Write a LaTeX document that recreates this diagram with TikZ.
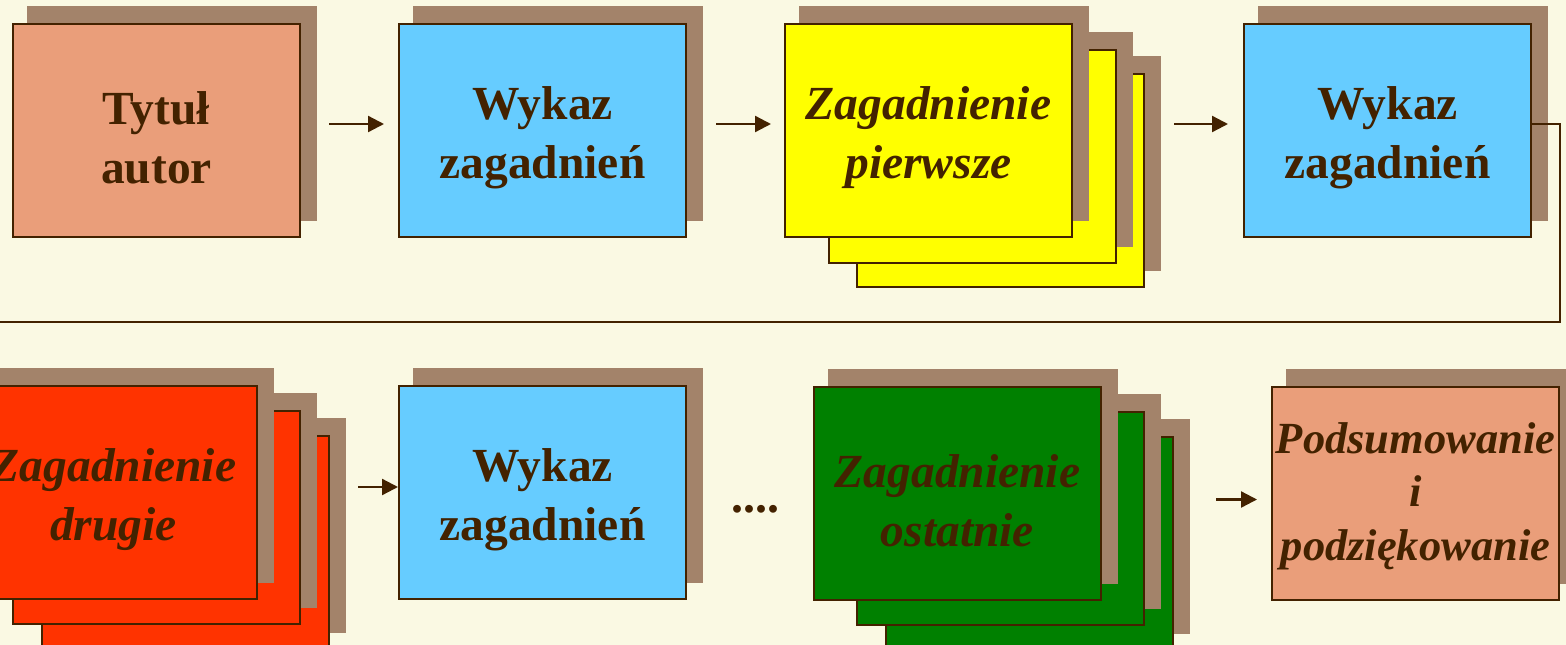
\documentclass[tikz,border=0pt]{standalone}
\usepackage{fontspec}
\setmainfont{Liberation Serif}
\usetikzlibrary{arrows.meta,shadows,calc}
\definecolor{bgc}{HTML}{FAF9E3}
\definecolor{dbr}{HTML}{432200}
\definecolor{shc}{HTML}{A3836A}
\definecolor{salmon}{HTML}{EA9E7A}
\definecolor{skyb}{HTML}{66CCFF}
\definecolor{yel}{HTML}{FFFF00}
\definecolor{redc}{HTML}{FF3300}
\definecolor{grn}{HTML}{008000}
\newcommand\toppad[1]{\rule{0pt}{#1}}
\begin{document}
\begin{tikzpicture}[x=1pt,y=-1pt,
  card/.style={draw=dbr, line width=2pt, minimum width=287pt, minimum height=213pt,
    inner sep=0pt, anchor=north west, text=dbr, align=center,
    font=\fontsize{47.5}{59}\selectfont\bfseries,
    drop shadow={shadow xshift=15.5pt, shadow yshift=16.5pt, shadow scale=1.01, fill=shc, opacity=1}},
  ital/.style={font=\fontsize{47.5}{59}\selectfont\bfseries\itshape},
  arr/.style={draw=dbr, line width=2.3pt, -{Triangle[length=16pt,width=16pt]}},
  conn/.style={draw=dbr, line width=2pt}]
\fill[bgc] (0,0) rectangle (1566,645);
\useasboundingbox (0,0) rectangle (1566,645);
% top row
\node[card, fill=salmon] (t1) at (12,23) {\toppad{48pt}Tytuł\\autor};
\node[card, fill=skyb] (t2) at (398,23) {\toppad{48pt}Wykaz\\zagadnień};
\node[card, fill=yel] (yc3) at (856,73) {};
\node[card, fill=yel] (yc2) at (828,49) {};
\node[card, fill=yel, ital] (yc1) at (784,23) {\toppad{48pt}Zagadnienie\\pierwsze};
\node[card, fill=skyb] (t4) at (1243,23) {\toppad{48pt}Wykaz\\zagadnień};
% bottom row
\node[card, fill=redc] (rc3) at (41,435) {};
\node[card, fill=redc] (rc2) at (12,410) {};
\node[card, fill=redc, ital] (rc1) at (-31,385) {\toppad{48pt}Zagadnienie\\drugie};
\node[card, fill=skyb] (b2) at (398,385) {\toppad{48pt}Wykaz\\zagadnień};
\node[anchor=base, text=dbr, inner sep=0pt, font=\fontsize{48}{58}\selectfont\bfseries] (dots) at (755,512) {....};
\node[card, fill=grn] (gc3) at (885,436) {};
\node[card, fill=grn] (gc2) at (856,411) {};
\node[card, fill=grn, ital] (gc1) at (813,386) {\toppad{48pt}Zagadnienie\\ostatnie};
\node[card, fill=salmon, font=\fontsize{44.5}{53.5}\selectfont\bfseries\itshape] (fin) at (1271,386) {\toppad{36pt}Podsumowanie\\i\\podziękowanie};
% arrows
\draw[arr] ($(t1.east)+(28,-6.5)$) -- ($(t2.west)+(-14,-6.5)$);
\draw[arr] ($(t2.east)+(29,-6.5)$) -- ($(yc1.west)+(-13,-6.5)$);
\draw[arr] ($(yc3.east |- t4.west)+(29,-6.5)$) -- ($(t4.west)+(-15,-6.5)$);
\coordinate (loopend) at (-5,322);
\draw[conn] ($(t4.east)+(0,-6.5)$) -- ++(28,0) |- (loopend);
\draw[arr] ($(rc3.east |- b2.west)+(28,-5.5)$) -- ($(b2.west)+(0,-5.5)$);
\draw[arr] ($(gc3.east |- fin.west)+(42,6)$) -- ($(fin.west)+(-14,6)$);
\end{tikzpicture}
\end{document}
